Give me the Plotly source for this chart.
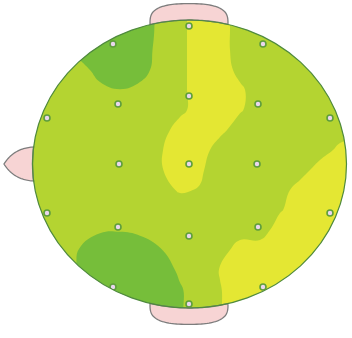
import numpy as np
import plotly.graph_objects as go

# ---- data (pixel-space grid of the scalp field) ----
grid_x = [20, 40, 60, 80, 100, 120, 140, 160, 180, 200, 220, 240, 260, 280, 300, 320, 340, 360]
grid_y = [10, 30, 50, 70, 90, 110, 130, 150, 170, 190, 210, 230, 250, 270, 290, 310, 330]
field = [
    [1, 1, 1, 0, 0, 0, 0, 0.7, 1.23, 2, 2, 1, 1, 1, 1, 1, 1, 1],
    [1, 1, 1, 0, 0, 0, 0, 0.7, 1.23, 2, 2, 1, 1, 1, 1, 1, 1, 1],
    [1, 1, 1, 0, 0, 0, 0, 0.8, 1.23, 2, 2, 1.0, 1, 1, 1, 1, 1, 1],
    [1, 1, 1, 1, 0, 0, 0, 1, 1.23, 2, 2, 1.23, 1, 1, 1, 1, 1, 1],
    [1, 1, 1, 1, 0.83, 0.52, 0.83, 1, 1.23, 2, 2, 1.67, 1, 1, 1, 1, 1, 1],
    [1, 1, 1, 1, 1, 1, 1, 1, 1.23, 2, 2, 1.6, 1, 1, 1, 1, 1, 1],
    [1, 1, 1, 1, 1, 1, 1, 1, 2, 2, 1.77, 1, 1, 1, 1, 1, 1, 1.3],
    [1, 1, 1, 1, 1, 1, 1, 1.41, 2, 2, 1, 1, 1, 1, 1, 1, 1.77, 2],
    [1, 1, 1, 1, 1, 1, 1, 1.4, 2, 1.63, 1, 1, 1, 1, 1, 2, 2, 2],
    [1, 1, 1, 1, 1, 1, 1, 1.2, 1.59, 1.45, 1, 1, 1, 1, 2, 2, 2, 2],
    [1, 1, 1, 1, 1, 1, 1, 1, 1, 1, 1, 1, 1, 1.41, 2, 2, 2, 2],
    [1, 1, 1, 1, 0.6, 0.55, 0.7, 1, 1, 1, 1, 1, 1, 2, 2, 2, 2, 2],
    [1, 1, 1, 0.44, 0, 0, 0, 0.43, 1, 1, 1, 2, 2, 2, 2, 2, 2, 2],
    [1, 1, 1, 0.3, 0, 0, 0, 0, 0.67, 1, 1.55, 2, 2, 2, 2, 2, 2, 2],
    [0, 0, 0, 0, 0, 0, 0, 0, 0.4, 1, 1.45, 2, 2, 2, 2, 2, 2, 2],
    [0, 0, 0, 0, 0, 0, 0, 0, 0.4, 1, 1.45, 2, 2, 2, 2, 2, 2, 2],
    [0, 0, 0, 0, 0, 0, 0, 0, 0.4, 1, 1.45, 2, 2, 2, 2, 2, 2, 2],
]
electrode_x = [189, 113, 263, 189, 118, 258, 47, 330, 119, 189, 257, 47, 330, 118, 189, 258, 113, 263, 189]
electrode_y = [26, 44, 44, 96, 104, 104, 118, 118, 164, 164, 164, 213, 213, 227, 236, 227, 287, 287, 304]

# ---- geometry / style ----
W, H = 352, 338
CX, CY, RX, RY = 189.5, 164.0, 157.0, 144.0
DARK, MID, YEL = "#76be3a", "#b4d431", "#e4e733"
EAR_FILL, EAR_LINE = "#f7d4d4", "#7d7d7d"


def head_y(x, sign):
    return CY + sign * RY * np.sqrt(max(0.0, 1 - ((x - CX) / RX) ** 2))


def head_x(y, sign):
    return CX + sign * RX * np.sqrt(max(0.0, 1 - ((y - CY) / RY) ** 2))


def poly(points):
    return "M " + " L ".join(f"{px:.2f},{py:.2f}" for px, py in points) + " Z"


t = np.linspace(0, 2 * np.pi, 240)
ellipse_pts = list(zip(CX + RX * np.cos(t), CY + RY * np.sin(t)))
mask_path = "M -20,-20 L 372,-20 L 372,358 L -20,358 Z " + poly(ellipse_pts)


def ear(sign):
    ex0, ex1 = 150.0, 228.0
    ecx = (ex0 + ex1) / 2
    erx = (ex1 - ex0) / 2
    base = head_y(ex0, sign)
    depth = 21.0
    pts = []
    for a in np.linspace(np.pi, 0, 60):
        ca = np.cos(a)
        sa = np.sin(a)
        px = ecx + erx * np.sign(ca) * abs(ca) ** 0.8
        py = base + sign * depth * abs(sa) ** 0.6
        pts.append((px, py))
    for xx in np.linspace(ex1, ex0, 40):
        pts.append((xx, head_y(xx, sign)))
    return poly(pts)


def nose():
    y0, y1 = 147.0, 181.0
    tip = (4.0, 164.0)
    pts = []
    xa = head_x(y0, -1)
    xb = head_x(y1, -1)
    for s in np.linspace(0, 1, 30):
        px = (1 - s) ** 2 * xa + 2 * (1 - s) * s * 14 + s ** 2 * tip[0]
        py = (1 - s) ** 2 * y0 + 2 * (1 - s) * s * (y0 + 1) + s ** 2 * tip[1]
        pts.append((px, py))
    for s in np.linspace(0, 1, 30):
        px = (1 - s) ** 2 * tip[0] + 2 * (1 - s) * s * 14 + s ** 2 * xb
        py = (1 - s) ** 2 * tip[1] + 2 * (1 - s) * s * (y1 - 1) + s ** 2 * y1
        pts.append((px, py))
    for yy in np.linspace(y1, y0, 20):
        pts.append((head_x(yy, -1), yy))
    return poly(pts)


fig = go.Figure()
fig.add_trace(go.Contour(
    x=grid_x, y=grid_y, z=field,
    zmin=0, zmax=2, autocontour=False,
    contours=dict(start=0.5, end=1.5, size=1, coloring="fill", showlines=False),
    colorscale=[[0, DARK], [0.3333, DARK], [0.3334, MID], [0.6666, MID], [0.6667, YEL], [1, YEL]],
    line=dict(width=0, smoothing=1.3),
    showscale=False, hoverinfo="skip",
))
fig.add_trace(go.Scatter(
    x=electrode_x, y=electrode_y, mode="markers",
    marker=dict(size=6, color="#ead6ee", line=dict(color="#5f9e3c", width=1.6)),
    hoverinfo="skip", showlegend=False,
))

shapes = [
    dict(type="path", path=mask_path, fillcolor="white", line=dict(width=0),
         fillrule="evenodd", layer="above"),
    dict(type="path", path=ear(-1), fillcolor=EAR_FILL, line=dict(color=EAR_LINE, width=1.3), layer="above"),
    dict(type="path", path=ear(1), fillcolor=EAR_FILL, line=dict(color=EAR_LINE, width=1.3), layer="above"),
    dict(type="path", path=nose(), fillcolor=EAR_FILL, line=dict(color=EAR_LINE, width=1.3), layer="above"),
    dict(type="circle", x0=CX - RX, x1=CX + RX, y0=CY - RY, y1=CY + RY,
         line=dict(color="#4f8a3e", width=1.2), layer="above"),
]

fig.update_layout(
    width=W, height=H, margin=dict(l=0, r=0, t=0, b=0),
    paper_bgcolor="white", plot_bgcolor="white",
    xaxis=dict(range=[0, W], visible=False, fixedrange=True),
    yaxis=dict(range=[H, 0], visible=False, fixedrange=True),
    shapes=shapes, showlegend=False,
)
fig.write_html(
    "out.html",
    config={"displayModeBar": False},
    post_script="document.body.style.margin='0px';document.body.style.overflow='hidden';",
)
